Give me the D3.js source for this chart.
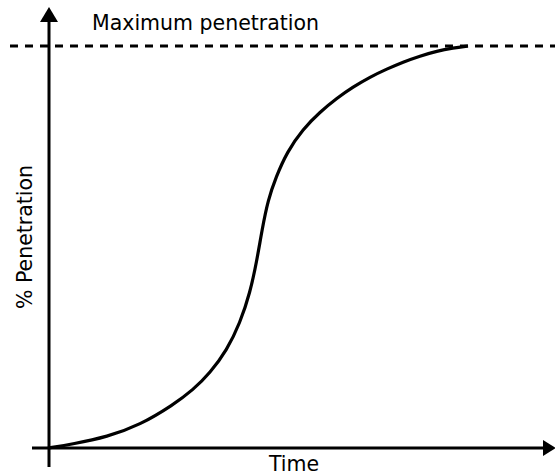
<!DOCTYPE html>
<html><head><meta charset="utf-8">
<script src="https://cdn.jsdelivr.net/npm/d3@7"></script>
<style>html,body{margin:0;padding:0;background:#fff;}svg{display:block;}</style>
</head><body>
<script>
const timeValues = [0, 5.95, 14.05, 21.9, 29.76, 34.52, 38.57, 42.62, 45.71, 48.1, 49.76, 50.95, 52.38, 54.29, 56.9, 60.71, 64.76, 68.81, 72.62, 76.67, 80.71, 84.52, 88.57, 92.62, 96.43, 100];
const penetration = [0, 1.0, 2.74, 5.72, 10.7, 14.43, 18.66, 24.38, 31.09, 38.56, 46.77, 54.23, 61.69, 67.41, 73.63, 79.35, 83.58, 87.06, 89.8, 92.29, 94.28, 96.02, 97.51, 98.76, 99.5, 100];
const maxPenetration = 100;
const labels = {top: "Maximum penetration", y: "% Penetration", x: "Time"};

const W = 555, H = 475;
const svg = d3.select("body").append("svg").attr("width", W).attr("height", H);
const x = d3.scaleLinear().domain([0, 100]).range([48, 468]);
const y = d3.scaleLinear().domain([0, 100]).range([448, 46]);
const font = "DejaVu Sans, sans-serif";
const fs = 20.5;

// dashed max line
svg.append("line").attr("x1", 10).attr("x2", W).attr("y1", y(maxPenetration)).attr("y2", y(maxPenetration))
  .attr("stroke", "#000").attr("stroke-width", 3).attr("stroke-dasharray", "8,7");

// y axis
svg.append("line").attr("x1", 49).attr("x2", 49).attr("y1", 467).attr("y2", 18)
  .attr("stroke", "#000").attr("stroke-width", 3);
svg.append("path").attr("d", "M49,7 L40,22 L58,22 Z").attr("fill", "#000");

// x axis
svg.append("line").attr("x1", 32).attr("x2", 546).attr("y1", y(0)).attr("y2", y(0))
  .attr("stroke", "#000").attr("stroke-width", 3);
svg.append("path").attr("d", `M556,${y(0)} L543,${y(0)-8} L543,${y(0)+8} Z`).attr("fill", "#000");

// curve
const pts = timeValues.map((t, i) => [t, penetration[i]]);
svg.append("path").datum(pts)
  .attr("d", d3.line().x(d => x(d[0])).y(d => y(d[1])).curve(d3.curveBasis))
  .attr("fill", "none").attr("stroke", "#000").attr("stroke-width", 3.2);

// labels
svg.append("text").attr("x", 92).attr("y", 30).attr("font-family", font).attr("font-size", fs)
  .text(labels.top);
svg.append("text").attr("x", 294).attr("y", 471).attr("text-anchor", "middle")
  .attr("font-family", font).attr("font-size", fs).text(labels.x);
svg.append("text").attr("transform", "translate(32,237) rotate(-90)").attr("text-anchor", "middle")
  .attr("font-family", font).attr("font-size", fs).text(labels.y);
</script>
</body></html>
